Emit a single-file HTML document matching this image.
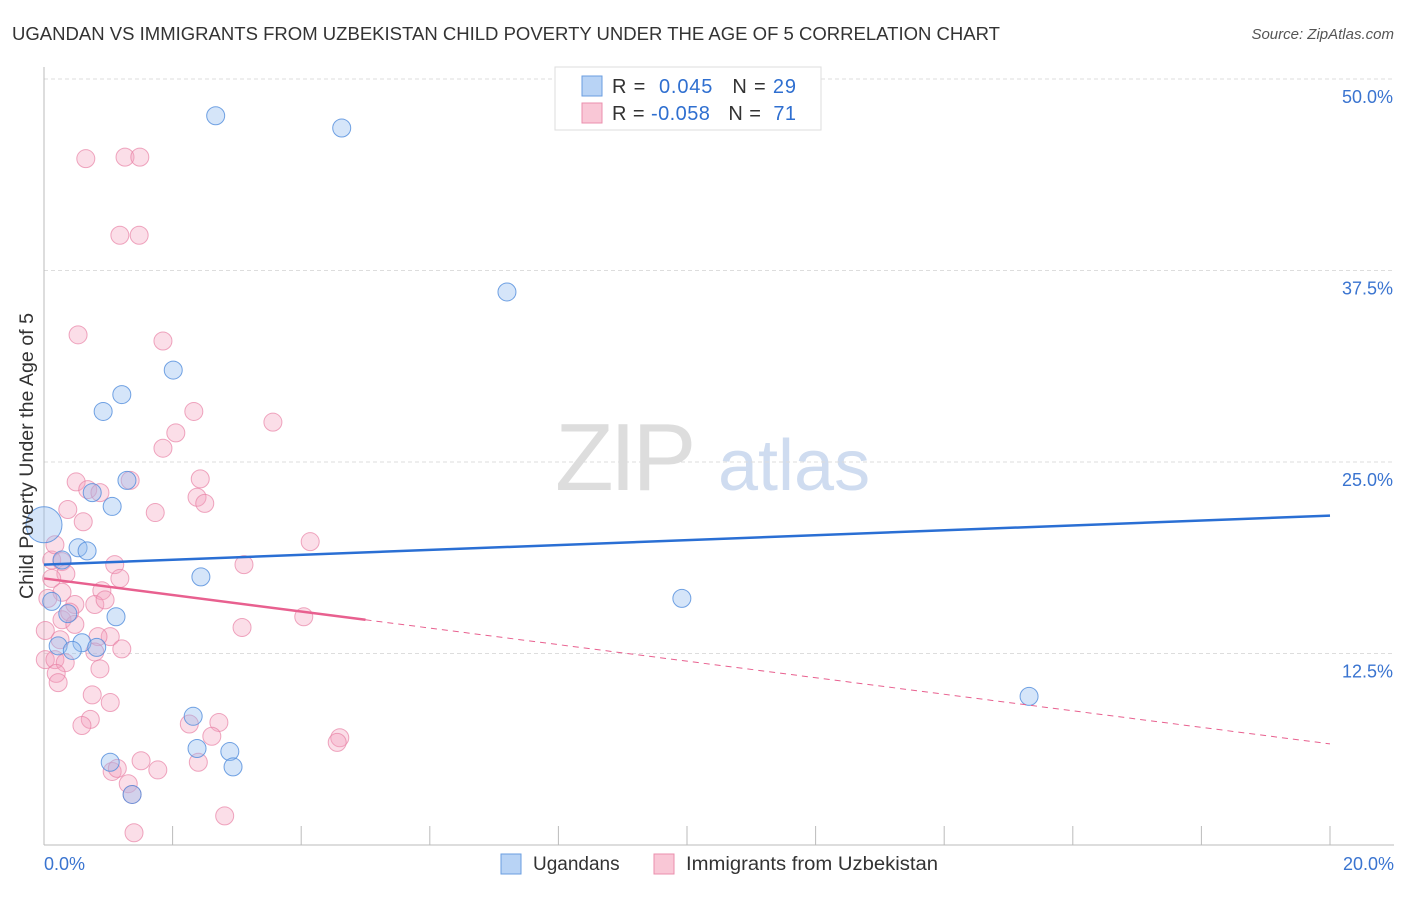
<!DOCTYPE html>
<html><head><meta charset="utf-8"><style>
body{margin:0;background:#fff;font-family:"Liberation Sans",sans-serif;}
svg text{font-family:"Liberation Sans",sans-serif;}
</style></head><body>
<svg id="chart" width="1406" height="892" xmlns="http://www.w3.org/2000/svg">
<text x="12" y="40" font-size="18" fill="#333" textLength="988" lengthAdjust="spacingAndGlyphs">UGANDAN VS IMMIGRANTS FROM UZBEKISTAN CHILD POVERTY UNDER THE AGE OF 5 CORRELATION CHART</text>
<text x="1394" y="39" font-size="15" fill="#555" text-anchor="end" font-style="italic">Source: ZipAtlas.com</text>
<g>
<text x="555" y="490" font-size="96" fill="#ddd" font-family="Liberation Serif" letter-spacing="-4">ZIP</text>
<text x="718" y="490" font-size="72" fill="#cfdcf0">atlas</text>
</g>
<g id="grid"></g>
<g id="axes"></g>
<g id="marks"></g>
<text transform="translate(33,456) rotate(-90)" font-size="19" fill="#333" text-anchor="middle" textLength="286" lengthAdjust="spacingAndGlyphs">Child Poverty Under the Age of 5</text>
<g>
<rect x="555" y="67" width="266" height="63" fill="#fff" stroke="#ddd"/>
<rect x="582" y="76" width="20" height="20" fill="#b8d3f5" stroke="#6a9ee0"/>
<rect x="582" y="103" width="20" height="20" fill="#f9c7d6" stroke="#eb8fad"/>
<text x="612" y="93" font-size="20" fill="#333" textLength="184" lengthAdjust="spacing">R = <tspan fill="#2f6fd0">&#160;0.045</tspan>&#160;&#160;&#160;N = <tspan fill="#2f6fd0">29</tspan></text>
<text x="612" y="120" font-size="20" fill="#333" textLength="184" lengthAdjust="spacing">R = <tspan fill="#2f6fd0">-0.058</tspan>&#160;&#160;&#160;N = <tspan fill="#2f6fd0">&#160;71</tspan></text>
</g>
<g>
<rect x="501" y="854" width="20" height="20" fill="#b8d3f5" stroke="#6a9ee0"/>
<text x="533" y="870" font-size="19" fill="#333">Ugandans</text>
<rect x="654" y="854" width="20" height="20" fill="#f9c7d6" stroke="#eb8fad"/>
<text x="686" y="870" font-size="19" fill="#333" textLength="252" lengthAdjust="spacingAndGlyphs">Immigrants from Uzbekistan</text>
</g>
</svg>
<script>
const xTicks=[0,2,4,6,8,10,12,14,16,18,20];
const yTicks=[12.5,25,37.5,50];
const yTickLabels=["12.5%","25.0%","37.5%","50.0%"];
const blueX=[2.67,4.63,7.20,2.01,1.21,0.92,1.29,0.75,1.06,0.0,0.53,0.67,0.28,2.44,0.12,0.37,1.12,9.92,0.22,0.59,0.82,0.44,15.32,2.32,2.38,2.89,2.94,1.03,1.37];
const blueY=[47.6,46.8,36.1,31.0,29.4,28.3,23.8,23.0,22.1,20.9,19.4,19.2,18.6,17.5,15.9,15.1,14.9,16.1,13.0,13.2,12.9,12.7,9.7,8.4,6.3,6.1,5.1,5.4,3.3];
const pinkX=[0.65,1.26,1.49,1.18,1.48,0.53,1.85,2.33,3.56,2.05,1.85,0.50,1.34,0.68,0.87,2.43,2.38,2.50,0.37,0.61,1.73,4.14,0.12,0.28,0.34,1.10,3.11,1.18,0.28,0.90,0.48,0.79,0.95,0.06,0.02,0.28,0.48,1.03,0.84,4.04,3.08,0.02,0.17,0.33,0.79,1.21,0.19,0.22,0.87,0.75,1.03,0.72,0.59,2.26,2.72,2.61,4.60,4.56,1.51,2.40,1.06,1.14,1.77,1.31,1.37,2.81,1.40,0.12,0.40,0.25,0.17];
const pinkY=[44.8,44.9,44.9,39.8,39.8,33.3,32.9,28.3,27.6,26.9,25.9,23.7,23.8,23.2,23.0,23.9,22.7,22.3,21.9,21.1,21.7,19.8,18.6,18.5,17.7,18.3,18.3,17.4,16.5,16.6,15.7,15.7,16.0,16.1,14.0,14.7,14.4,13.6,13.6,14.9,14.2,12.1,12.1,11.9,12.6,12.8,11.2,10.6,11.5,9.8,9.3,8.2,7.8,7.9,8.0,7.1,7.0,6.7,5.5,5.4,4.8,5.0,4.9,4.0,3.3,1.9,0.8,17.4,15.2,13.4,19.6];
const blueTrend=[18.3,21.5];
const pinkTrend=[17.4,6.6];
const pinkSolidEnd=5.0;

const NS="http://www.w3.org/2000/svg";
const X=v=>44+v*(1330-44)/20;
const Y=v=>845-v*(845-79)/50;
function mk(tag,attrs,parent){const e=document.createElementNS(NS,tag);for(const k in attrs)e.setAttribute(k,attrs[k]);parent.appendChild(e);return e;}
const grid=document.getElementById('grid'),axes=document.getElementById('axes'),marks=document.getElementById('marks');
yTicks.forEach((t,i)=>{
 const l=mk('line',{x1:44,x2:1394,y1:Y(t),y2:Y(t),stroke:'#ddd','stroke-dasharray':'4,3'},grid);
 
 
 const tx=mk('text',{x:1393,y:Y(t)+24,'font-size':18,fill:'#3a74d0','text-anchor':'end'},axes);
 tx.textContent=yTickLabels[i];
 
 
});
const ax=mk('line',{x1:44,x2:1394,y1:845,y2:845,stroke:'#bbb'},axes);


const ay=mk('line',{x1:44,x2:44,y1:67,y2:845,stroke:'#bbb'},axes);


xTicks.forEach(t=>{
 const l=mk('line',{x1:X(t),x2:X(t),y1:826,y2:845,stroke:'#bbb'},axes);
 
 
});
[[0,"0.0%","start",44],[20,"20.0%","end",1394]].forEach(d=>{
 const tx=mk('text',{x:d[3],y:870,'font-size':18,fill:'#3a74d0','text-anchor':d[2]},axes);
 tx.textContent=d[1];
 
 
});
pinkX.forEach((x,i)=>{
 const c=mk('circle',{cx:X(x),cy:Y(pinkY[i]),r:9,fill:'rgba(244,160,188,0.35)',stroke:'rgba(232,130,165,0.7)','stroke-width':1},marks);
 
 
});
blueX.forEach((x,i)=>{
 const c=mk('circle',{cx:X(x),cy:Y(blueY[i]),r:i===9?18:9,fill:'rgba(150,190,240,0.4)',stroke:'rgba(80,140,220,0.8)','stroke-width':1},marks);
 
 
});
const bt=mk('line',{x1:X(0),y1:Y(blueTrend[0]),x2:X(20),y2:Y(blueTrend[1]),stroke:'#2a6fd4','stroke-width':2.5},marks);


const pAt=v=>pinkTrend[0]+(pinkTrend[1]-pinkTrend[0])*v/20;
const ps=mk('line',{x1:X(0),y1:Y(pinkTrend[0]),x2:X(pinkSolidEnd),y2:Y(pAt(pinkSolidEnd)),stroke:'#e8608f','stroke-width':2.5},marks);


const pd=mk('line',{x1:X(pinkSolidEnd),y1:Y(pAt(pinkSolidEnd)),x2:X(20),y2:Y(pinkTrend[1]),stroke:'#e8608f','stroke-width':1,'stroke-dasharray':'6,5'},marks);


</script>
</body></html>
